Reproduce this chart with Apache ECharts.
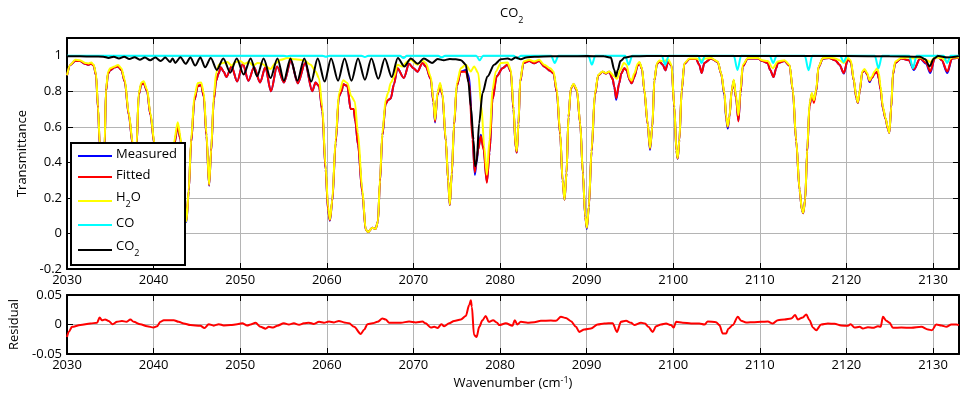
<!DOCTYPE html>
<html><head><meta charset="utf-8">
<script src="https://cdn.jsdelivr.net/npm/echarts@6/dist/echarts.min.js"></script>
<style>html,body{margin:0;padding:0;background:#fff}#c{width:979px;height:404px}</style>
</head><body><div id="c"></div>
<script>
// ---- data: [wavenumber, value] ----
const seriesNames = ['Measured', 'Fitted', 'H2O', 'CO', 'CO2'];
const seriesColors = ['#0000ff', '#ff0000', '#ffff00', '#00ffff', '#000000'];
const xTicksStart = 2030, xTicksEnd = 2133, xTickStep = 10;

const h2o = [[2030.0,0.89],[2030.38,0.95],[2030.96,0.977],[2031.5,0.975],[2032.1,0.96],[2032.5,0.957],[2032.8,0.962],[2033.08,0.95],[2033.35,0.9],[2033.58,0.715],[2033.78,0.51],[2034.05,0.3],[2034.35,0.51],[2034.5,0.81],[2034.74,0.91],[2035.0,0.93],[2035.51,0.94],[2035.9,0.948],[2036.28,0.93],[2036.67,0.865],[2037.13,0.678],[2037.59,0.51],[2037.82,0.35],[2038.05,0.51],[2038.28,0.79],[2038.59,0.85],[2038.86,0.856],[2039.25,0.81],[2039.63,0.678],[2040.1,0.51],[2040.45,0.2],[2041.2,0.42],[2041.8,0.3],[2042.33,0.51],[2042.79,0.626],[2043.1,0.547],[2043.4,0.34],[2043.79,0.069],[2044.06,0.247],[2044.33,0.528],[2044.71,0.772],[2045.1,0.847],[2045.49,0.85],[2045.8,0.79],[2046.1,0.566],[2046.41,0.275],[2046.64,0.472],[2046.95,0.772],[2047.22,0.903],[2047.53,0.95],[2048.0,0.96],[2048.5,0.965],[2049.0,0.945],[2049.5,0.965],[2050.0,0.97],[2050.5,0.955],[2051.0,0.965],[2051.5,0.945],[2052.0,0.96],[2052.5,0.955],[2053.0,0.94],[2053.5,0.925],[2054.0,0.955],[2054.66,0.977],[2055.43,0.987],[2056.39,0.98],[2057.36,0.974],[2058.13,0.95],[2058.7,0.912],[2059.09,0.875],[2059.48,0.715],[2059.86,0.378],[2060.15,0.15],[2060.36,0.079],[2060.63,0.19],[2061.02,0.528],[2061.4,0.79],[2061.9,0.862],[2062.37,0.847],[2062.83,0.772],[2063.22,0.744],[2063.6,0.566],[2064.1,0.247],[2064.49,0.023],[2064.76,0.008],[2065.26,0.032],[2065.64,0.026],[2065.91,0.069],[2066.14,0.303],[2066.41,0.566],[2066.8,0.753],[2067.07,0.79],[2067.38,0.847],[2067.76,0.88],[2068.15,0.95],[2068.73,0.94],[2069.3,0.968],[2069.69,0.977],[2070.46,0.95],[2071.04,0.974],[2071.43,0.96],[2072.0,0.884],[2072.31,0.753],[2072.5,0.64],[2072.77,0.79],[2073.08,0.847],[2073.35,0.79],[2073.74,0.528],[2074.01,0.303],[2074.2,0.163],[2074.43,0.341],[2074.7,0.622],[2075.01,0.847],[2075.47,0.93],[2076.05,0.95],[2076.63,0.912],[2077.01,0.94],[2077.48,0.903],[2077.86,0.715],[2078.17,0.49],[2078.48,0.33],[2078.79,0.528],[2079.13,0.81],[2079.52,0.912],[2080.1,0.96],[2080.87,0.962],[2081.25,0.922],[2081.55,0.715],[2081.82,0.49],[2081.94,0.463],[2082.13,0.622],[2082.33,0.865],[2082.71,0.968],[2083.37,0.977],[2083.94,0.968],[2084.52,0.977],[2085.1,0.95],[2085.79,0.93],[2086.18,0.912],[2086.56,0.81],[2086.95,0.566],[2087.22,0.303],[2087.45,0.191],[2087.68,0.341],[2087.91,0.659],[2088.18,0.818],[2088.49,0.843],[2088.88,0.81],[2089.26,0.622],[2089.57,0.341],[2089.84,0.097],[2090.03,0.032],[2090.26,0.154],[2090.57,0.472],[2090.96,0.79],[2091.34,0.893],[2091.84,0.912],[2092.23,0.903],[2092.61,0.912],[2093.19,0.884],[2093.5,0.87],[2093.89,0.92],[2094.3,0.96],[2094.6,0.95],[2095.0,0.87],[2095.2,0.86],[2095.5,0.9],[2095.9,0.955],[2096.1,0.965],[2096.4,0.93],[2096.66,0.81],[2097.05,0.622],[2097.32,0.481],[2097.59,0.603],[2097.82,0.865],[2098.13,0.959],[2098.4,0.974],[2098.9,0.968],[2099.4,0.98],[2099.8,0.95],[2100.13,0.715],[2100.36,0.472],[2100.52,0.425],[2100.71,0.528],[2100.98,0.81],[2101.29,0.959],[2101.87,0.985],[2102.64,0.985],[2103.21,0.975],[2103.7,0.985],[2104.37,0.987],[2105.14,0.968],[2105.53,0.903],[2105.92,0.79],[2106.11,0.659],[2106.3,0.603],[2106.49,0.66],[2106.76,0.81],[2106.99,0.865],[2107.26,0.772],[2107.53,0.665],[2107.77,0.81],[2108.03,0.95],[2108.61,0.987],[2109.77,0.987],[2110.3,0.975],[2110.9,0.97],[2111.5,0.93],[2112.08,0.968],[2112.85,0.975],[2113.43,0.95],[2113.81,0.81],[2114.2,0.528],[2114.59,0.247],[2114.86,0.135],[2115.01,0.116],[2115.24,0.191],[2115.47,0.472],[2115.74,0.734],[2116.01,0.79],[2116.24,0.75],[2116.51,0.81],[2116.78,0.94],[2117.28,0.987],[2118.0,0.99],[2118.7,0.985],[2119.2,0.975],[2119.7,0.96],[2120.17,0.987],[2120.5,0.975],[2120.86,0.865],[2121.13,0.772],[2121.32,0.738],[2121.55,0.81],[2121.82,0.912],[2122.09,0.925],[2122.4,0.903],[2122.67,0.862],[2122.94,0.884],[2123.25,0.912],[2123.56,0.93],[2123.75,0.9],[2123.94,0.828],[2124.21,0.715],[2124.52,0.65],[2124.79,0.594],[2124.95,0.566],[2125.18,0.715],[2125.37,0.903],[2125.64,0.968],[2126.33,0.987],[2127.2,0.99],[2127.8,0.985],[2128.5,0.99],[2129.3,0.975],[2129.7,0.965],[2130.2,0.99],[2131.0,0.988],[2131.6,0.968],[2132.2,0.99],[2133.0,0.992]];

const fitted = [[2030.0,0.89],[2030.38,0.948],[2030.96,0.972],[2031.5,0.97],[2032.1,0.955],[2032.5,0.95],[2032.8,0.955],[2033.08,0.945],[2033.35,0.89],[2033.58,0.705],[2033.78,0.5],[2034.05,0.29],[2034.35,0.5],[2034.5,0.8],[2034.74,0.9],[2035.0,0.92],[2035.51,0.935],[2035.9,0.94],[2036.28,0.92],[2036.67,0.855],[2037.13,0.668],[2037.59,0.5],[2037.82,0.34],[2038.05,0.5],[2038.28,0.78],[2038.59,0.84],[2038.86,0.845],[2039.25,0.8],[2039.63,0.668],[2040.1,0.5],[2040.45,0.19],[2041.2,0.41],[2041.8,0.29],[2042.33,0.49],[2042.79,0.6],[2043.1,0.53],[2043.4,0.33],[2043.79,0.072],[2044.06,0.24],[2044.33,0.51],[2044.71,0.75],[2045.1,0.83],[2045.49,0.835],[2045.8,0.77],[2046.1,0.55],[2046.41,0.272],[2046.64,0.46],[2046.95,0.75],[2047.22,0.86],[2047.5,0.9],[2047.75,0.935],[2048.1,0.91],[2048.4,0.88],[2049.0,0.94],[2049.65,0.855],[2050.3,0.955],[2050.95,0.86],[2051.6,0.935],[2052.3,0.85],[2052.9,0.935],[2053.55,0.8],[2054.25,0.94],[2055.05,0.85],[2055.85,0.97],[2056.66,0.845],[2057.5,0.96],[2058.32,0.8],[2058.7,0.85],[2059.09,0.83],[2059.48,0.69],[2059.86,0.36],[2060.15,0.13],[2060.36,0.075],[2060.63,0.18],[2061.02,0.51],[2061.4,0.77],[2061.7,0.8],[2061.9,0.84],[2062.37,0.83],[2062.75,0.7],[2063.1,0.7],[2063.3,0.63],[2063.6,0.5],[2064.1,0.23],[2064.49,0.022],[2064.76,0.008],[2065.26,0.032],[2065.64,0.026],[2065.91,0.069],[2066.14,0.29],[2066.41,0.55],[2066.8,0.73],[2067.07,0.75],[2067.38,0.76],[2067.76,0.84],[2068.15,0.93],[2068.9,0.875],[2069.5,0.955],[2070.0,0.93],[2070.46,0.91],[2071.04,0.96],[2071.43,0.94],[2072.0,0.87],[2072.31,0.74],[2072.5,0.63],[2072.77,0.78],[2073.08,0.835],[2073.35,0.78],[2073.74,0.52],[2074.01,0.3],[2074.2,0.16],[2074.43,0.335],[2074.7,0.61],[2075.01,0.83],[2075.47,0.91],[2076.05,0.91],[2076.44,0.847],[2076.82,0.528],[2077.09,0.345],[2077.3,0.42],[2077.48,0.472],[2077.79,0.547],[2078.1,0.472],[2078.48,0.285],[2078.79,0.453],[2079.13,0.753],[2079.63,0.884],[2080.29,0.93],[2080.87,0.95],[2081.25,0.91],[2081.55,0.7],[2081.82,0.48],[2081.94,0.455],[2082.13,0.615],[2082.33,0.855],[2082.71,0.96],[2083.37,0.97],[2083.94,0.958],[2084.52,0.97],[2085.1,0.94],[2085.79,0.915],[2086.18,0.9],[2086.56,0.795],[2086.95,0.555],[2087.22,0.3],[2087.45,0.19],[2087.68,0.34],[2087.91,0.655],[2088.18,0.815],[2088.49,0.84],[2088.88,0.805],[2089.26,0.618],[2089.57,0.338],[2089.84,0.095],[2090.03,0.032],[2090.26,0.15],[2090.57,0.46],[2090.96,0.78],[2091.34,0.89],[2091.84,0.91],[2092.23,0.9],[2092.61,0.91],[2093.0,0.87],[2093.19,0.828],[2093.42,0.762],[2093.77,0.847],[2094.0,0.9],[2094.35,0.93],[2094.6,0.92],[2095.0,0.86],[2095.2,0.845],[2095.5,0.88],[2095.9,0.945],[2096.1,0.96],[2096.4,0.925],[2096.66,0.805],[2097.05,0.615],[2097.32,0.478],[2097.59,0.6],[2097.82,0.86],[2098.13,0.955],[2098.4,0.968],[2098.8,0.95],[2099.09,0.918],[2099.4,0.965],[2099.8,0.945],[2100.13,0.71],[2100.36,0.468],[2100.52,0.422],[2100.71,0.525],[2100.98,0.805],[2101.29,0.955],[2101.87,0.982],[2102.64,0.982],[2103.0,0.95],[2103.29,0.903],[2103.6,0.96],[2104.37,0.985],[2105.14,0.965],[2105.53,0.9],[2105.92,0.785],[2106.11,0.655],[2106.3,0.6],[2106.49,0.655],[2106.76,0.805],[2106.99,0.86],[2107.26,0.76],[2107.53,0.63],[2107.77,0.79],[2108.03,0.94],[2108.61,0.985],[2109.77,0.985],[2110.3,0.97],[2110.9,0.96],[2111.2,0.92],[2111.58,0.88],[2111.9,0.93],[2112.08,0.96],[2112.85,0.97],[2113.43,0.945],[2113.81,0.805],[2114.2,0.52],[2114.59,0.245],[2114.86,0.133],[2115.01,0.114],[2115.24,0.19],[2115.47,0.46],[2115.74,0.715],[2116.01,0.785],[2116.24,0.735],[2116.51,0.8],[2116.78,0.935],[2117.28,0.985],[2118.0,0.988],[2118.7,0.975],[2119.2,0.95],[2119.7,0.903],[2120.17,0.98],[2120.5,0.965],[2120.86,0.86],[2121.13,0.765],[2121.32,0.735],[2121.55,0.805],[2121.82,0.905],[2122.09,0.92],[2122.4,0.895],[2122.67,0.858],[2122.94,0.875],[2123.25,0.9],[2123.56,0.91],[2123.75,0.87],[2123.94,0.81],[2124.21,0.705],[2124.52,0.645],[2124.79,0.59],[2124.95,0.565],[2125.18,0.71],[2125.37,0.895],[2125.64,0.96],[2126.33,0.985],[2127.2,0.975],[2127.8,0.925],[2128.5,0.985],[2129.2,0.96],[2129.68,0.912],[2130.2,0.985],[2130.5,1.0],[2131.0,0.975],[2131.65,0.912],[2132.2,0.985],[2133.0,0.99]];

const measured = [[2030.0,0.89],[2030.38,0.948],[2030.96,0.972],[2031.5,0.97],[2032.1,0.955],[2032.5,0.95],[2032.8,0.955],[2033.08,0.945],[2033.35,0.89],[2033.58,0.705],[2033.78,0.5],[2034.05,0.29],[2034.35,0.5],[2034.5,0.8],[2034.74,0.9],[2035.0,0.92],[2035.51,0.935],[2035.9,0.94],[2036.28,0.92],[2036.67,0.855],[2037.13,0.668],[2037.59,0.5],[2037.82,0.34],[2038.05,0.5],[2038.28,0.78],[2038.59,0.84],[2038.86,0.845],[2039.25,0.8],[2039.63,0.668],[2040.1,0.5],[2040.45,0.19],[2041.2,0.41],[2041.8,0.29],[2042.33,0.49],[2042.79,0.6],[2043.1,0.53],[2043.4,0.33],[2043.79,0.065],[2044.06,0.24],[2044.33,0.51],[2044.71,0.75],[2045.1,0.83],[2045.49,0.835],[2045.8,0.77],[2046.1,0.55],[2046.41,0.268],[2046.64,0.46],[2046.95,0.75],[2047.22,0.86],[2047.5,0.9],[2047.75,0.935],[2048.1,0.91],[2048.4,0.88],[2049.0,0.94],[2049.65,0.855],[2050.3,0.955],[2050.95,0.86],[2051.6,0.935],[2052.3,0.85],[2052.9,0.935],[2053.55,0.8],[2054.25,0.94],[2055.05,0.85],[2055.85,0.97],[2056.66,0.845],[2057.5,0.96],[2058.32,0.8],[2058.7,0.85],[2059.09,0.83],[2059.48,0.69],[2059.86,0.36],[2060.15,0.13],[2060.36,0.072],[2060.63,0.18],[2061.02,0.51],[2061.4,0.77],[2061.7,0.8],[2061.9,0.84],[2062.37,0.83],[2062.75,0.7],[2063.1,0.7],[2063.3,0.63],[2063.6,0.5],[2064.1,0.23],[2064.49,0.022],[2064.76,0.008],[2065.26,0.032],[2065.64,0.026],[2065.91,0.069],[2066.14,0.29],[2066.41,0.55],[2066.8,0.73],[2067.07,0.75],[2067.38,0.76],[2067.76,0.84],[2068.15,0.93],[2068.9,0.875],[2069.5,0.955],[2070.0,0.93],[2070.46,0.91],[2071.04,0.96],[2071.43,0.94],[2072.0,0.87],[2072.31,0.74],[2072.5,0.625],[2072.77,0.78],[2073.08,0.835],[2073.35,0.78],[2073.74,0.52],[2074.01,0.3],[2074.2,0.16],[2074.43,0.335],[2074.7,0.61],[2075.01,0.83],[2075.47,0.91],[2076.05,0.92],[2076.44,0.88],[2076.82,0.56],[2077.09,0.33],[2077.3,0.4],[2077.48,0.472],[2077.79,0.555],[2078.1,0.48],[2078.48,0.29],[2078.79,0.455],[2079.13,0.755],[2079.63,0.886],[2080.29,0.93],[2080.87,0.95],[2081.25,0.91],[2081.55,0.7],[2081.82,0.48],[2081.94,0.455],[2082.13,0.615],[2082.33,0.855],[2082.71,0.96],[2083.37,0.97],[2083.94,0.958],[2084.52,0.97],[2085.1,0.94],[2085.79,0.915],[2086.18,0.9],[2086.56,0.795],[2086.95,0.555],[2087.22,0.3],[2087.45,0.19],[2087.68,0.34],[2087.91,0.655],[2088.18,0.815],[2088.49,0.84],[2088.88,0.805],[2089.26,0.618],[2089.57,0.338],[2089.84,0.092],[2090.03,0.025],[2090.26,0.15],[2090.57,0.46],[2090.96,0.78],[2091.34,0.89],[2091.84,0.91],[2092.23,0.9],[2092.61,0.91],[2093.0,0.87],[2093.19,0.825],[2093.42,0.752],[2093.77,0.847],[2094.0,0.9],[2094.35,0.93],[2094.6,0.92],[2095.0,0.86],[2095.2,0.845],[2095.5,0.88],[2095.9,0.945],[2096.1,0.96],[2096.4,0.925],[2096.66,0.805],[2097.05,0.615],[2097.32,0.47],[2097.59,0.6],[2097.82,0.86],[2098.13,0.955],[2098.4,0.968],[2098.8,0.95],[2099.09,0.918],[2099.4,0.965],[2099.8,0.945],[2100.13,0.71],[2100.36,0.468],[2100.52,0.42],[2100.71,0.525],[2100.98,0.805],[2101.29,0.955],[2101.87,0.982],[2102.64,0.982],[2103.0,0.95],[2103.29,0.903],[2103.6,0.96],[2104.37,0.985],[2105.14,0.965],[2105.53,0.9],[2105.92,0.775],[2106.11,0.645],[2106.3,0.59],[2106.49,0.655],[2106.76,0.805],[2106.99,0.86],[2107.26,0.76],[2107.53,0.635],[2107.77,0.79],[2108.03,0.94],[2108.61,0.985],[2109.77,0.985],[2110.3,0.97],[2110.9,0.96],[2111.2,0.92],[2111.58,0.88],[2111.9,0.93],[2112.08,0.96],[2112.85,0.97],[2113.43,0.945],[2113.81,0.805],[2114.2,0.52],[2114.59,0.245],[2114.86,0.133],[2115.01,0.114],[2115.24,0.19],[2115.47,0.46],[2115.74,0.72],[2116.01,0.785],[2116.24,0.745],[2116.51,0.8],[2116.78,0.935],[2117.28,0.985],[2118.0,0.988],[2118.7,0.975],[2119.2,0.95],[2119.7,0.9],[2120.17,0.98],[2120.5,0.965],[2120.86,0.86],[2121.13,0.765],[2121.32,0.735],[2121.55,0.805],[2121.82,0.905],[2122.09,0.92],[2122.4,0.895],[2122.67,0.852],[2122.94,0.875],[2123.25,0.9],[2123.56,0.91],[2123.75,0.87],[2123.94,0.81],[2124.21,0.705],[2124.52,0.645],[2124.79,0.59],[2124.95,0.565],[2125.18,0.71],[2125.37,0.895],[2125.64,0.96],[2126.33,0.985],[2127.2,0.975],[2127.8,0.92],[2128.5,0.985],[2129.2,0.955],[2129.68,0.903],[2130.2,0.985],[2130.5,1.0],[2131.0,0.975],[2131.65,0.903],[2132.2,0.985],[2133.0,0.99]];

const co = [[2030,1],[2055.0,1],[2055.4,0.997],[2055.8,1],[2059.5,1],[2059.9,0.995],[2060.3,1],[2064.0,1],[2064.4,0.993],[2064.8,1],[2068.45,1],[2068.85,0.987],[2069.25,1],[2072.86,1],[2073.26,0.99],[2073.66,1],[2077.25,1],[2077.65,0.975],[2078.05,1],[2081.6,1],[2082.0,0.985],[2082.4,1],[2085.9,1],[2086.32,0.96],[2086.75,1],[2090.2,1],[2090.61,0.95],[2091.0,1],[2094.45,1],[2094.86,0.95],[2095.27,1],[2098.68,1],[2099.08,0.95],[2099.48,1],[2102.87,1],[2103.27,0.96],[2103.67,1],[2107.0,1],[2107.42,0.92],[2107.84,1],[2111.14,1],[2111.54,0.96],[2111.94,1],[2115.2,1],[2115.63,0.918],[2116.05,1],[2119.28,1],[2119.68,0.965],[2120.08,1],[2123.28,1],[2123.7,0.93],[2124.12,1],[2127.26,1],[2127.68,0.93],[2128.1,1],[2131.23,1],[2131.63,0.96],[2132.03,1],[2133,1]];

const co2 = [[2030,0.997],[2031.5,0.997],[2033,0.996],[2034.2,0.995],[2034.8,0.988],[2035.4,0.995],[2036.0,0.985],[2036.6,0.994],[2037.2,0.982],[2037.8,0.992],[2038.4,0.978],[2039.0,0.99],[2039.6,0.975],[2040.2,0.99],[2040.8,0.97],[2041.35,0.99],[2041.9,0.965],[2042.2,0.985],[2042.5,0.96],[2043.1,0.992],[2043.7,0.955],[2044.25,0.99],[2044.8,0.945],[2045.4,0.99],[2045.95,0.935],[2046.6,0.988],[2047.3,0.92],[2048.05,0.985],[2048.85,0.905],[2049.6,0.985],[2050.4,0.895],[2051.2,0.985],[2051.95,0.885],[2052.7,0.985],[2053.5,0.875],[2054.3,0.985],[2055.05,0.86],[2055.8,0.985],[2056.6,0.86],[2057.4,0.985],[2058.2,0.855],[2058.95,0.985],[2059.75,0.855],[2060.5,0.985],[2061.3,0.86],[2062.05,0.985],[2062.85,0.86],[2063.6,0.985],[2064.4,0.865],[2065.15,0.985],[2065.95,0.87],[2066.7,0.985],[2067.5,0.88],[2068.2,0.987],[2068.95,0.94],[2069.7,0.985],[2070.5,0.955],[2071.2,0.985],[2072.15,0.96],[2072.8,0.982],[2073.5,0.975],[2074.2,0.982],[2074.9,0.98],[2075.5,0.975],[2076.05,0.95],[2076.35,0.85],[2076.63,0.715],[2076.94,0.528],[2077.12,0.378],[2077.3,0.4],[2077.59,0.62],[2077.98,0.79],[2078.55,0.884],[2079.33,0.95],[2080.1,0.98],[2080.9,0.985],[2081.3,0.978],[2081.8,0.99],[2082.4,0.98],[2083.0,0.99],[2084,0.995],[2086,0.997],[2088,0.997],[2090,0.998],[2092,0.997],[2092.8,0.99],[2093.2,0.92],[2093.38,0.884],[2093.6,0.92],[2093.9,0.97],[2094.4,0.99],[2095.2,0.997],[2097,0.998],[2100,0.998],[2105,0.998],[2110,0.998],[2115,0.998],[2120,0.998],[2125,0.997],[2128.5,0.995],[2129.1,0.98],[2129.6,0.94],[2130.1,0.985],[2130.6,0.998],[2131.6,0.99],[2133,0.998]];

const residual = [[2030.0,-0.021],[2030.2,-0.0126],[2030.58,-0.004],[2031.54,-0.001],[2032.7,0.0017],[2033.47,0.003],[2033.77,0.012],[2034.05,0.007],[2034.4,0.0085],[2034.8,0.006],[2035.27,0.0005],[2035.78,0.0045],[2036.35,0.006],[2036.85,0.0045],[2037.32,0.0085],[2037.7,0.0045],[2038.47,0.0005],[2039.25,-0.003],[2040.0,-0.005],[2040.4,-0.003],[2040.79,0.0045],[2041.17,0.0073],[2042.33,0.0073],[2042.9,0.0045],[2043.48,0.0017],[2044.25,-0.001],[2045.4,-0.002],[2045.87,-0.006],[2046.37,0.0005],[2046.95,-0.002],[2047.53,0.0005],[2048.1,-0.0015],[2048.88,-0.001],[2049.65,0.0005],[2050.23,0.002],[2050.81,-0.0015],[2051.2,0],[2051.77,0.003],[2052.35,-0.004],[2052.93,-0.007],[2053.3,-0.004],[2053.8,-0.005],[2054.28,-0.002],[2055.04,0.002],[2055.62,0],[2056.2,0.002],[2056.8,-0.0005],[2057.35,0.002],[2057.93,0.003],[2058.5,0.001],[2059.1,0.0045],[2059.67,0.003],[2060.25,0.005],[2060.83,0.0035],[2061.4,0.006],[2062.0,0.0035],[2062.57,0.002],[2063.15,-0.004],[2063.92,-0.016],[2064.3,-0.009],[2064.7,0.0005],[2065.27,0.002],[2065.85,0.0045],[2066.42,0.0102],[2066.8,0.0085],[2067.2,0.003],[2067.78,0.003],[2068.55,0.003],[2069.5,0.005],[2070.28,0.0035],[2071.05,0.005],[2071.4,0.002],[2072.0,-0.005],[2072.4,-0.004],[2072.8,-0.006],[2073.23,0.0005],[2073.55,-0.003],[2074.13,0.002],[2074.7,0.006],[2075.48,0.0085],[2076.05,0.0145],[2076.44,0.033],[2076.63,0.041],[2076.75,0.03],[2077.0,-0.018],[2077.3,-0.021],[2077.6,-0.004],[2077.97,0.007],[2078.35,0.0145],[2078.7,0.0045],[2079.2,0.007],[2079.67,0.003],[2079.9,-0.001],[2080.67,0.002],[2081.44,-0.002],[2081.71,0.0074],[2082.0,0],[2082.4,0.0045],[2083.18,0.003],[2083.95,0.004],[2084.72,0.0063],[2085.88,0.0068],[2086.45,0.0063],[2087.03,0.013],[2087.6,0.011],[2088.19,0.0057],[2088.77,-0.004],[2089.15,-0.0125],[2089.73,-0.0085],[2090.5,-0.0068],[2091.27,0],[2092.04,0.0017],[2093.0,0.0023],[2093.5,-0.0125],[2093.97,0.0045],[2094.55,0.0063],[2095.13,0.003],[2095.51,-0.001],[2096.28,0.003],[2096.74,0.0017],[2097.13,-0.004],[2097.63,-0.0125],[2098.02,-0.003],[2098.59,0],[2099.17,0.0017],[2099.75,-0.001],[2100.06,-0.005],[2100.33,0.0045],[2101.1,0.003],[2102.06,0.0017],[2103.02,0.0017],[2103.6,0],[2103.99,0.005],[2104.95,0.004],[2105.33,-0.001],[2105.72,-0.0154],[2106.1,-0.0154],[2106.38,-0.007],[2106.88,-0.001],[2107.46,0.013],[2107.84,0.0063],[2108.42,0.0034],[2109.38,0.004],[2110.15,0.0045],[2110.92,0.005],[2111.5,0.0017],[2112.08,0.0074],[2112.85,0.0085],[2113.62,0.0102],[2114.08,0.0159],[2114.39,0.0085],[2114.97,0.012],[2115.36,0.017],[2115.74,0.0074],[2116.13,-0.005],[2116.51,-0.0097],[2117.09,0],[2117.86,0.0017],[2118.63,0.0011],[2119.4,-0.0017],[2120.17,-0.0023],[2120.48,0.0005],[2120.94,-0.005],[2121.52,-0.004],[2121.9,-0.0068],[2122.48,-0.0045],[2123.06,-0.0057],[2123.64,-0.003],[2123.95,-0.004],[2124.22,0.013],[2124.6,0.0063],[2124.99,0.003],[2125.37,-0.0057],[2126.34,-0.005],[2127.5,-0.0057],[2128.65,-0.004],[2129.42,-0.0085],[2129.88,-0.0097],[2130.38,0],[2130.96,-0.0017],[2131.54,-0.004],[2132.12,0],[2132.7,0],[2133.0,-0.001]];

// ---- chart ----
const FONT = 'Open Sans';
const chart = echarts.init(document.getElementById('c'), null, {renderer: 'canvas'});
const GRID_COLOR = '#b4b4b4';
const sub = {
  a: {fontFamily: FONT, fontSize: 13, fontWeight: 'normal', color: '#000', lineHeight: 16, verticalAlign: 'top'},
  b: {fontFamily: FONT, fontSize: 9, fontWeight: 'normal', color: '#000', verticalAlign: 'top', padding: [9, 0, 0, 0]}
};
const legendLabel = {'Measured': '{a|Measured}', 'Fitted': '{a|Fitted}', 'H2O': '{a|H}{b|2}{a|O}', 'CO': '{a|CO}', 'CO2': '{a|CO}{b|2}'};
const legendRowY = [156, 177, 201, 225, 250];   // legend row positions (px)
const legendHasSub = [false, false, true, false, true];

function xAx(grid, pos, labels, extra) {
  return Object.assign({
    type: 'value', gridIndex: grid, position: pos, min: xTicksStart, max: xTicksEnd, interval: xTickStep,
    axisLine: {show: true, onZero: false, lineStyle: {color: '#000', width: 2}},
    axisTick: {show: true, inside: true, length: 6, lineStyle: {color: '#000', width: 1}},
    axisLabel: {show: labels, showMaxLabel: false, margin: 5, color: '#000', fontSize: 13, fontFamily: FONT,
                formatter: v => String(v)},
    splitLine: {show: labels, lineStyle: {color: GRID_COLOR, width: 1}}
  }, extra || {});
}
function yAx(grid, pos, labels, min, max, step, extra) {
  return Object.assign({
    type: 'value', gridIndex: grid, position: pos, min: min, max: max, interval: step,
    axisLine: {show: true, onZero: false, lineStyle: {color: '#000', width: 2}},
    axisTick: {show: true, inside: true, length: 6, lineStyle: {color: '#000', width: 1}},
    axisLabel: {show: labels, showMaxLabel: grid === 1, margin: 5, color: '#000', fontSize: 13, fontFamily: FONT},
    splitLine: {show: labels, lineStyle: {color: GRID_COLOR, width: 1}}
  }, extra || {});
}
function line(name, data, color, xi, yi, smooth) {
  return {name: name, type: 'line', data: data, xAxisIndex: xi, yAxisIndex: yi, symbol: 'none', showSymbol: false,
          smooth: smooth || false, smoothMonotone: 'x',
          lineStyle: {color: color, width: 2}, itemStyle: {color: color}, animation: false, silent: true, clip: true};
}

// legend drawn as graphic elements (box, line samples, labels)
const legendEls = [{type: 'rect', shape: {x: 71, y: 143, width: 114, height: 122},
  style: {fill: '#fff', stroke: '#000', lineWidth: 2}, z: 100}];
seriesNames.forEach((n, i) => {
  const y = legendRowY[i];
  legendEls.push({type: 'line', shape: {x1: 78, y1: y, x2: 112, y2: y},
    style: {stroke: seriesColors[i], lineWidth: 2}, z: 101});
  legendEls.push({type: 'text', x: 116, y: y - (legendHasSub[i] ? 10 : 8),
    style: {text: legendLabel[n], rich: sub, verticalAlign: 'top', align: 'left'}, z: 101});
});

const data = [measured, fitted, h2o, co, co2];
const series = seriesNames.map((n, i) => line(n, data[i], seriesColors[i], 0, 0, 0.3));
series.push(line('Residual', residual, '#ff0000', 2, 2, 0.3));

chart.setOption({
  animation: false,
  backgroundColor: '#fff',
  title: {text: '{a|CO}{b|2}', left: 495, top: 2, textStyle: {fontWeight: 'normal', rich: sub}},
  grid: [
    {left: 67, top: 38, width: 892, height: 231, containLabel: false, outerBoundsMode: 'none'},
    {left: 67, top: 295, width: 892, height: 59, containLabel: false, outerBoundsMode: 'none'}
  ],
  xAxis: [
    xAx(0, 'bottom', true),
    xAx(0, 'top', false),
    xAx(1, 'bottom', true, {name: 'Wavenumber (cm{sup|-1})', nameLocation: 'middle', nameGap: 22,
      nameTextStyle: {color: '#000', fontSize: 13, fontFamily: FONT, rich: {sup: {fontSize: 9, fontFamily: FONT, color: '#000', verticalAlign: 'top', padding: [0,0,6,0]}}}}),
    xAx(1, 'top', false)
  ],
  yAxis: [
    yAx(0, 'left', true, -0.2, 1.1, 0.2, {name: 'Transmittance', nameLocation: 'middle', nameGap: 34,
      nameTextStyle: {color: '#000', fontSize: 13, fontFamily: FONT}}),
    yAx(0, 'right', false, -0.2, 1.1, 0.2),
    yAx(1, 'left', true, -0.05, 0.05, 0.05, {name: 'Residual', nameLocation: 'middle', nameGap: 43,
      nameTextStyle: {color: '#000', fontSize: 13, fontFamily: FONT}}),
    yAx(1, 'right', false, -0.05, 0.05, 0.05)
  ],
  graphic: {elements: legendEls},
  series: series
});
</script>
</body></html>
